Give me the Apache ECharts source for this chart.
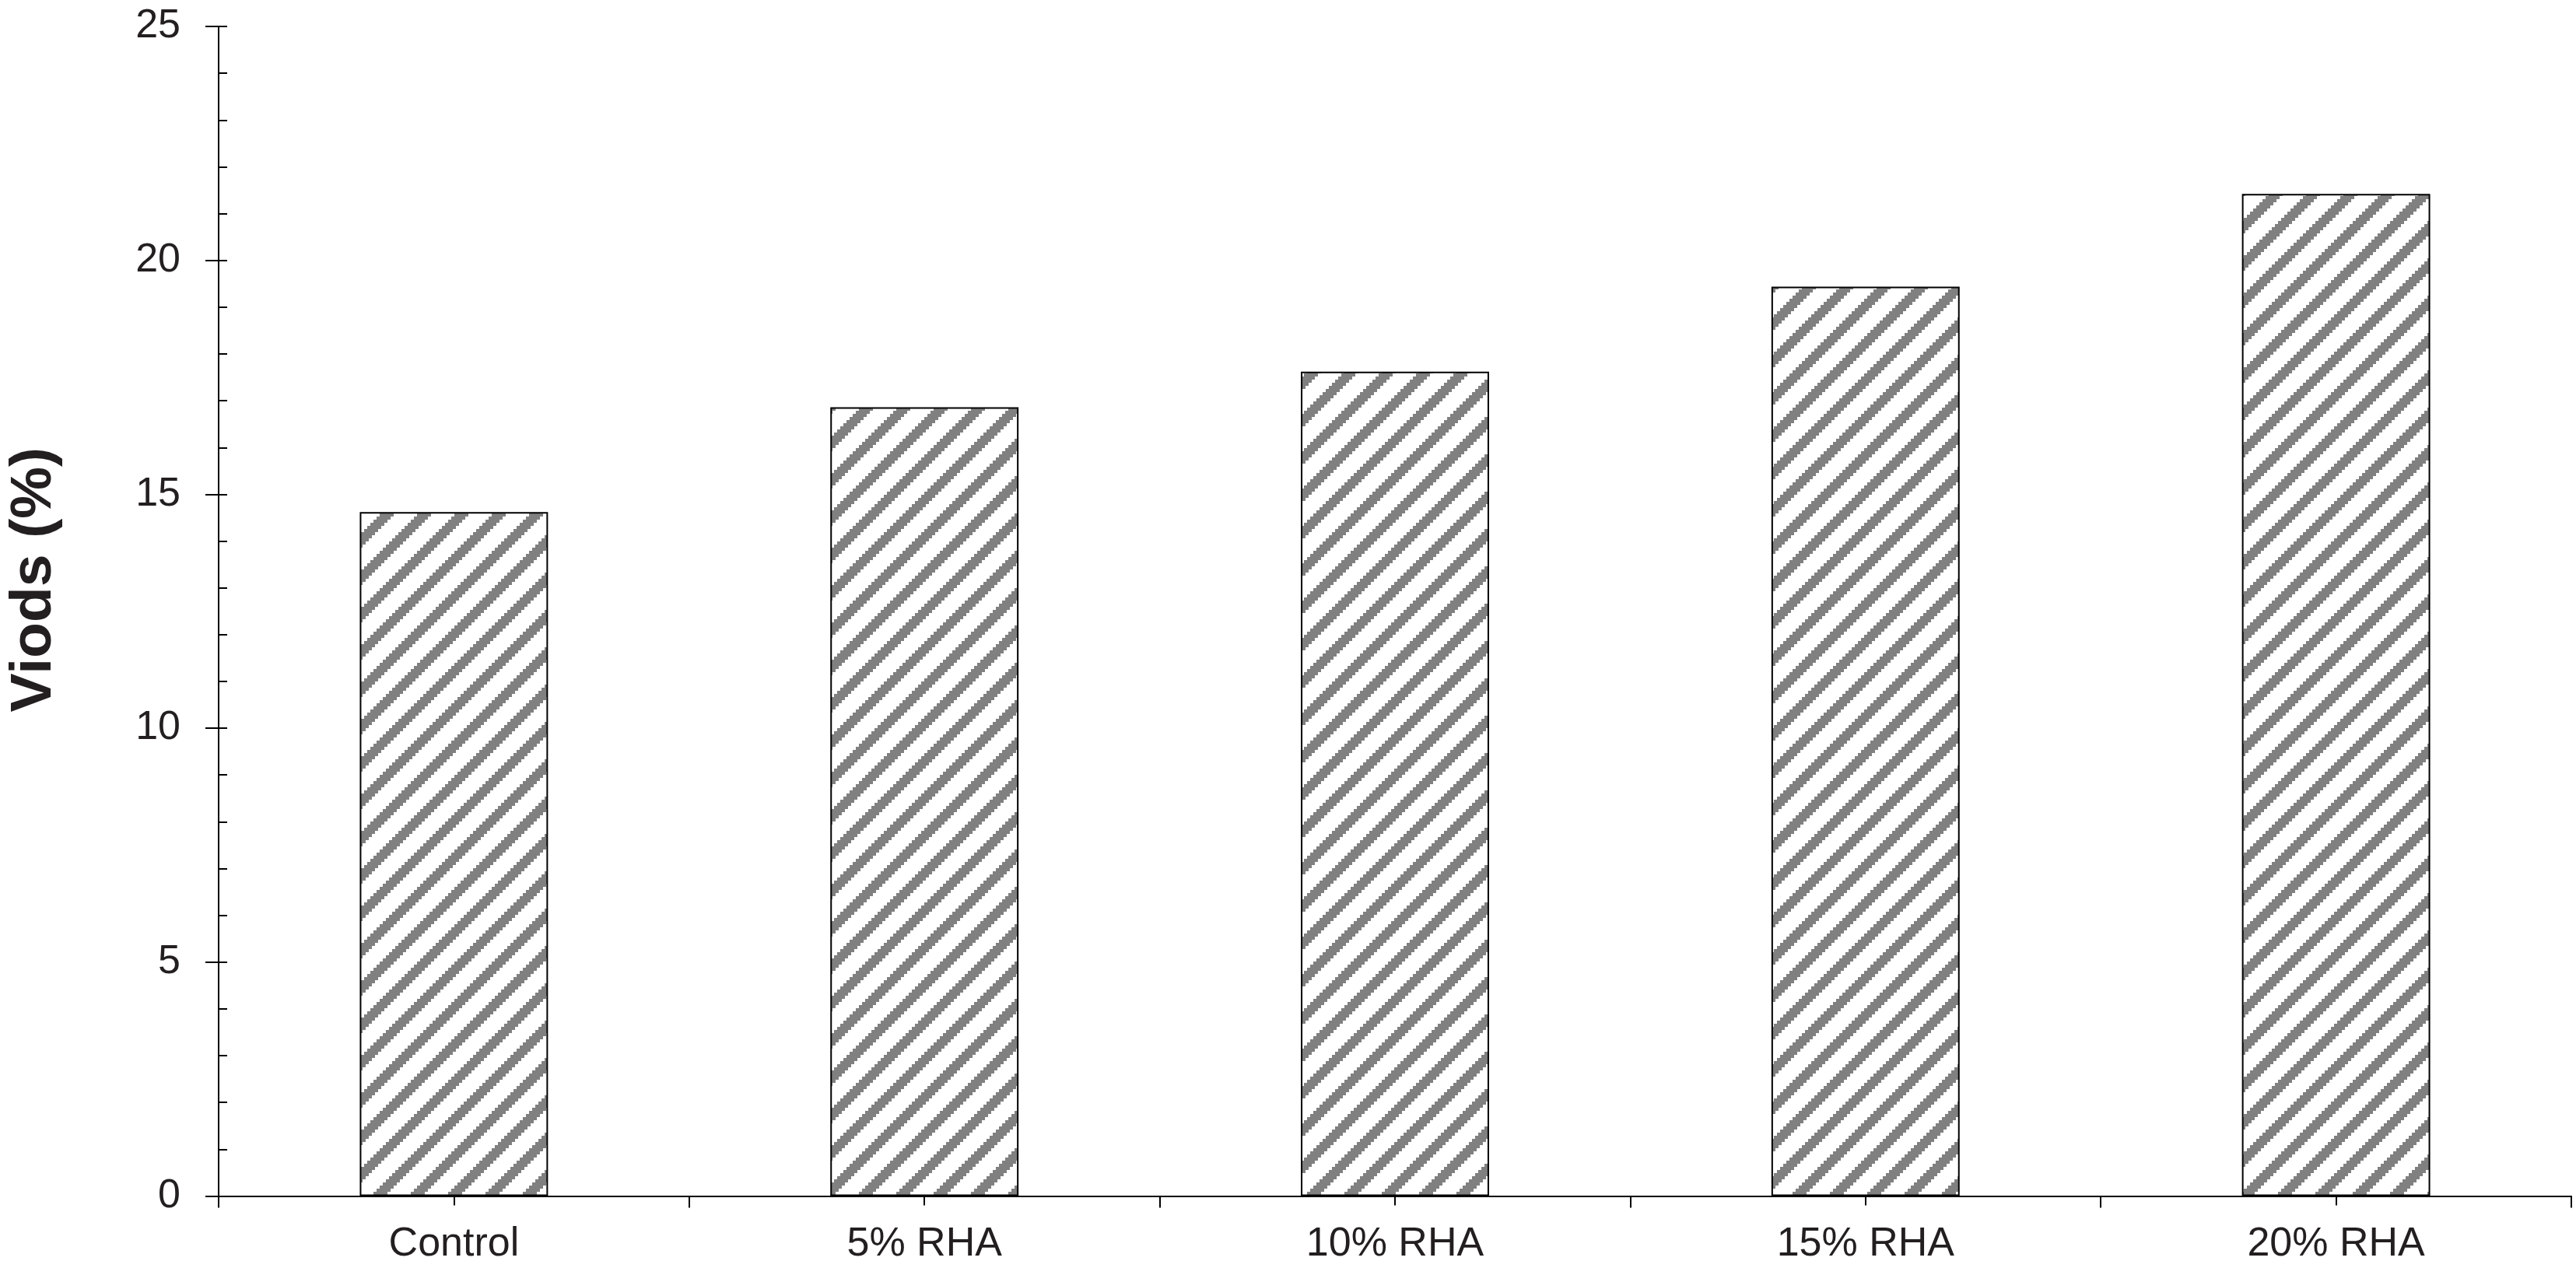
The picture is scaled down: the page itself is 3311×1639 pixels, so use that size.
<!DOCTYPE html>
<html>
<head>
<meta charset="utf-8">
<script src="https://cdn.jsdelivr.net/npm/echarts@6/dist/echarts.min.js"></script>
<style>
  html, body { margin: 0; padding: 0; background: #ffffff; }
  #chart { width: 3311px; height: 1639px; }
</style>
</head>
<body>
<div id="chart"></div>
<script>
// ---- data ----
const categories = ['Control', '5% RHA', '10% RHA', '15% RHA', '20% RHA'];
const voids = [14.62, 16.86, 17.62, 19.44, 21.42];
const yTitle = 'Viods (%)';
const yMin = 0, yMax = 25, yInterval = 5;

// ---- hatch pattern (diagonal stripes) ----
function makeHatch() {
  const P = 48, q = 4, T = 18;
  const c = document.createElement('canvas');
  c.width = P; c.height = P;
  const ctx = c.getContext('2d');
  ctx.fillStyle = '#ffffff';
  ctx.fillRect(0, 0, P, P);
  ctx.fillStyle = '#808080';
  for (let y = 0; y < P; y++) {
    const b = Math.floor(y / q);
    const xs = (((P - (b + 1) * q) % P) + P) % P;
    for (let k = 0; k < T; k++) {
      ctx.fillRect((xs + k) % P, y, 1, 1);
    }
  }
  return c;
}

const FONT = "'Liberation Sans', Arial, sans-serif";
const chart = echarts.init(document.getElementById('chart'), null, { renderer: 'canvas' });

const option = {
  backgroundColor: '#ffffff',
  animation: false,
  grid: { left: 281, right: 6, top: 34, bottom: 101.5, containLabel: false, outerBoundsMode: 'none' },
  xAxis: [
    {
      type: 'category', data: categories, position: 'bottom',
      axisLine: { show: true, lineStyle: { color: '#000', width: 2 } },
      axisTick: { show: true, length: 15, lineStyle: { color: '#000', width: 2 } },
      axisLabel: { fontSize: 52, margin: 36, color: '#231f20', fontFamily: FONT },
      splitLine: { show: false }
    },
    {
      type: 'category', data: categories, position: 'bottom',
      axisLine: { show: false },
      axisTick: { show: true, alignWithLabel: true, length: 12, lineStyle: { color: '#000', width: 2 } },
      axisLabel: { show: false },
      splitLine: { show: false }
    }
  ],
  yAxis: [
    {
      type: 'value', min: yMin, max: yMax, interval: yInterval, position: 'left',
      name: yTitle, nameLocation: 'middle', nameRotate: 90, nameGap: 199,
      nameTextStyle: { fontSize: 75, fontWeight: 'bold', color: '#231f20', fontFamily: FONT, padding: [0, 0, 0, 81] },
      axisLine: { show: true, lineStyle: { color: '#000', width: 2 } },
      axisTick: { show: true, length: 17, lineStyle: { color: '#000', width: 2 } },
      axisLabel: { fontSize: 52, margin: 49, color: '#231f20', fontFamily: FONT },
      splitLine: { show: false }
    },
    {
      type: 'value', min: yMin, max: yMax, interval: yInterval, position: 'left',
      axisLine: { show: false },
      axisTick: { show: true, inside: true, length: 11, lineStyle: { color: '#000', width: 2 } },
      minorTick: { show: true, splitNumber: 5, length: 11, lineStyle: { color: '#000', width: 2 } },
      axisLabel: { show: false },
      splitLine: { show: false }
    }
  ],
  series: [
    {
      type: 'bar', xAxisIndex: 0, yAxisIndex: 0,
      data: voids,
      barWidth: '40%',
      itemStyle: {
        color: { image: makeHatch(), repeat: 'repeat' },
        borderColor: '#000', borderWidth: 2
      }
    }
  ]
};
chart.setOption(option);
</script>
</body>
</html>
